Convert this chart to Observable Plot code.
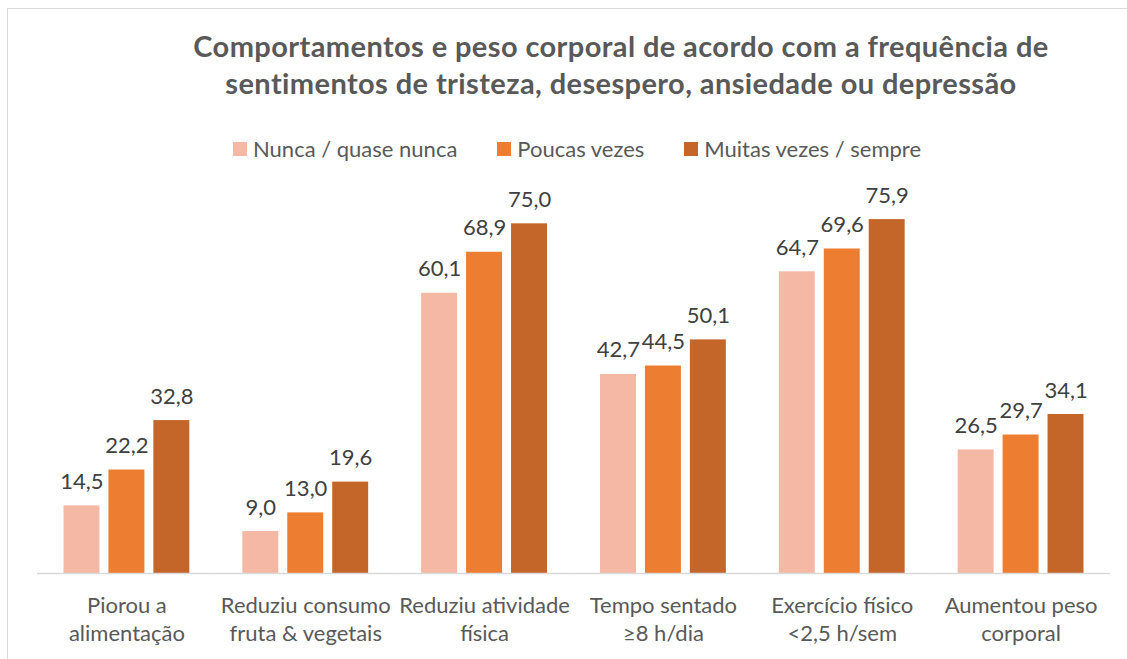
<!DOCTYPE html>
<html>
<head>
<meta charset="utf-8">
<script src="https://cdn.jsdelivr.net/npm/d3@7"></script>
<script src="https://cdn.jsdelivr.net/npm/@observablehq/plot@0.6"></script>
<style>
  html, body { margin: 0; padding: 0; background: #fff; overflow: hidden; }
  #wrap { position: relative; width: 1127px; height: 659px; overflow: hidden; font-family: Lato, "Open Sans", sans-serif; }
  #frame { position: absolute; left: 7px; top: 8px; width: 1300px; height: 900px; border-left: 1.5px solid #D9D9D9; border-top: 1.5px solid #D9D9D9; }
  #title { position: absolute; left: 71px; width: 1100px; top: 27px; text-align: center; font-weight: bold; font-size: 29px; letter-spacing: 0.4px; line-height: 37px; color: #595959; }
  #legend { position: absolute; left: 233px; top: 136px; display: flex; gap: 40px; font-size: 22px; color: #595959; line-height: 26px; white-space: nowrap; }
  #legend .item { display: flex; align-items: center; }
  #legend .sw { width: 14px; height: 14px; margin-right: 6px; display: inline-block; }
  #chart { position: absolute; left: 0; top: 170px; }
</style>
</head>
<body>
<div id="wrap">
  <div id="frame"></div>
  <div id="title"></div>
  <div id="legend"></div>
  <div id="chart"></div>
</div>
<script>
const titleLines = [
  "Comportamentos e peso corporal de acordo com a frequência de",
  "sentimentos de tristeza, desespero, ansiedade ou depressão"
];
const categories = [
  "Piorou a\nalimentação",
  "Reduziu consumo\nfruta & vegetais",
  "Reduziu atividade\nfísica",
  "Tempo sentado\n≥8 h/dia",
  "Exercício físico\n<2,5 h/sem",
  "Aumentou peso\ncorporal"
];
const seriesNames = ["Nunca / quase nunca", "Poucas vezes", "Muitas vezes / sempre"];
const seriesColors = ["#F4B8A4", "#ED7D31", "#C4652A"];
const nunca = [14.5, 9.0, 60.1, 42.7, 64.7, 26.5];
const poucas = [22.2, 13.0, 68.9, 44.5, 69.6, 29.7];
const muitas = [32.8, 19.6, 75.0, 50.1, 75.9, 34.1];

const seriesValues = [nunca, poucas, muitas];
const data = [];
categories.forEach((c, i) => {
  seriesNames.forEach((s, j) => {
    data.push({category: c, series: s, value: seriesValues[j][i]});
  });
});

document.getElementById("title").innerHTML = titleLines.join("<br>");
const legend = document.getElementById("legend");
seriesNames.forEach((s, j) => {
  const item = document.createElement("div");
  item.className = "item";
  const sw = document.createElement("span");
  sw.className = "sw";
  sw.style.background = seriesColors[j];
  const t = document.createElement("span");
  t.textContent = s;
  item.appendChild(sw);
  item.appendChild(t);
  legend.appendChild(item);
});

const fmt = v => v.toFixed(1).replace(".", ",");

const chart = Plot.plot({
  width: 1127,
  height: 489,
  marginLeft: 37,
  marginRight: 17,
  marginTop: 30,
  marginBottom: 86,
  style: { fontFamily: "Lato, 'Open Sans', sans-serif", fontSize: "22px", color: "#595959", background: "transparent" },
  fx: { domain: categories, padding: 0, round: false, label: null },
  x: { domain: seriesNames, paddingInner: 0.2, paddingOuter: 0.59, round: false, axis: null },
  y: { domain: [0, 80], axis: null },
  color: { domain: seriesNames, range: seriesColors },
  marks: [
    Plot.barY(data, { fx: "category", x: "series", y: "value", fill: "series" }),
    Plot.ruleY([0], { stroke: "#D9D9D9", strokeWidth: 1.5 }),
    Plot.text(data, { fx: "category", x: "series", y: "value", text: d => fmt(d.value), dy: -24, fill: "#404040", fontSize: 22 }),
    Plot.axisFx({ anchor: "bottom", tickSize: 0, tickPadding: 19, fontSize: 22, lineHeight: 1.3, label: null, fill: "#595959" })
  ]
});
document.getElementById("chart").appendChild(chart);
</script>
</body>
</html>
